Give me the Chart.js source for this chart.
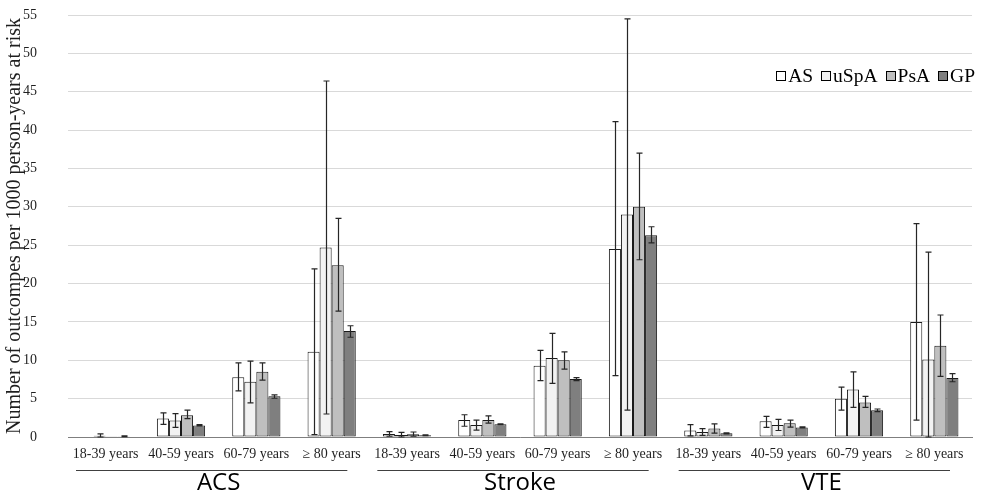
<!DOCTYPE html>
<html lang="en">
<head>
<meta charset="UTF-8">
<title>Outcomes per 1000 person-years</title>
<script src="https://cdn.jsdelivr.net/npm/chart.js"></script>
<style>
  body { margin: 0; background: #fff; }
  #wrap { position: relative; width: 987px; height: 501px; }
  #legend { position: absolute; right: 12px; top: 65px; font-family: "Liberation Serif", serif; font-size: 19.5px; color: #000; display: flex; align-items: center; }
  #legend span.item { display: flex; align-items: center; margin-left: 8px; }
  #legend i { display: inline-block; width: 8px; height: 8px; border: 1px solid #000; margin-right: 2px; }
</style>
</head>
<body>
<div id="wrap">
  <canvas id="grafico" width="987" height="501"></canvas>
  <div id="legend"></div>
</div>
<script>
// categorias
const idades = ['18-39 years', '40-59 years', '60-79 years', '\u2265 80 years'];
const desfechos = ['ACS', 'Stroke', 'VTE'];
const categorias = [...idades, ...idades, ...idades];

const series = ['AS', 'uSpA', 'PsA', 'GP'];
const cores = ['#ffffff', '#f2f2f2', '#bfbfbf', '#7f7f7f'];

// valores (ACS x4, Stroke x4, VTE x4)
const valAS   = [0.05, 2.4, 7.8, 11.1, 0.4, 2.2, 9.3, 24.5, 0.85, 2.05, 5.0, 15.0];
const loAS    = [0.05, 1.65, 6.0, 0.3, 0.1, 1.4, 7.35, 8.0, 0.15, 1.25, 3.5, 2.2];
const hiAS    = [0.05, 3.15, 9.65, 21.9, 0.7, 2.9, 11.3, 41.1, 1.6, 2.7, 6.5, 27.8];

const valUSpA = [0.15, 2.15, 7.2, 24.7, 0.25, 1.55, 10.3, 29.0, 0.65, 1.55, 6.2, 10.1];
const loUSpA  = [0, 1.25, 4.45, 3.0, 0, 0.9, 7.0, 3.5, 0.2, 0.85, 3.85, 0];
const hiUSpA  = [0.4, 3.05, 9.9, 46.4, 0.6, 2.2, 13.5, 54.5, 1.1, 2.3, 8.5, 24.1];

const valPsA  = [0.03, 2.85, 8.5, 22.4, 0.35, 2.2, 10.0, 30.0, 1.1, 1.8, 4.5, 11.9];
const loPsA   = [0.03, 2.4, 7.4, 16.4, 0.1, 1.8, 8.85, 23.1, 0.5, 1.3, 3.85, 7.9];
const hiPsA   = [0.03, 3.5, 9.65, 28.5, 0.65, 2.75, 11.1, 37.0, 1.7, 2.2, 5.3, 15.9];

const valGP   = [0.1, 1.5, 5.3, 13.8, 0.22, 1.65, 7.55, 26.3, 0.48, 1.25, 3.5, 7.7];
const loGP    = [0.05, 1.45, 5.05, 13.0, 0.18, 1.6, 7.35, 25.3, 0.42, 1.2, 3.3, 7.2];
const hiGP    = [0.15, 1.6, 5.5, 14.5, 0.27, 1.72, 7.75, 27.4, 0.55, 1.33, 3.65, 8.25];

const valores = [valAS, valUSpA, valPsA, valGP];
const minimos = [loAS, loUSpA, loPsA, loGP];
const maximos = [hiAS, hiUSpA, hiPsA, hiGP];

const serif = '"Liberation Serif", "Times New Roman", serif';

// barras de erro desenhadas pelas escalas
const errorBars = {
  id: 'errorBars',
  afterDatasetsDraw(chart) {
    const ctx = chart.ctx;
    const y = chart.scales.y;
    ctx.save();
    ctx.strokeStyle = '#262626';
    ctx.lineWidth = 1.2;
    chart.data.datasets.forEach((ds, i) => {
      chart.getDatasetMeta(i).data.forEach((bar, j) => {
        const lo = ds.errLo[j], hi = ds.errHi[j];
        if (hi - lo <= 0) return;
        const yLo = y.getPixelForValue(lo), yHi = y.getPixelForValue(hi);
        const x = Math.round(bar.x) + 0.5;
        ctx.beginPath();
        ctx.moveTo(x, yLo); ctx.lineTo(x, yHi);
        ctx.moveTo(x - 3, yLo); ctx.lineTo(x + 3, yLo);
        ctx.moveTo(x - 3, yHi); ctx.lineTo(x + 3, yHi);
        ctx.stroke();
      });
    });
    ctx.restore();
  }
};

// linhas sob os grupos
const groupLines = {
  id: 'groupLines',
  afterDraw(chart) {
    const s = chart.scales.x2;
    const ctx = chart.ctx;
    const half = s.width / desfechos.length / 2;
    ctx.save();
    ctx.strokeStyle = '#404040';
    ctx.lineWidth = 1;
    desfechos.forEach((d, i) => {
      const c = s.getPixelForTick(i);
      const yy = Math.round(s.top + 6) + 0.5;
      ctx.beginPath();
      ctx.moveTo(c - half + 8, yy);
      ctx.lineTo(c + half - 22, yy);
      ctx.stroke();
    });
    ctx.restore();
  }
};

new Chart(document.getElementById('grafico'), {
  type: 'bar',
  data: {
    labels: categorias,
    datasets: series.map((nome, i) => ({
      label: nome,
      data: valores[i],
      errLo: minimos[i],
      errHi: maximos[i],
      backgroundColor: cores[i],
      borderColor: '#1a1a1a',
      borderWidth: 1,
      borderSkipped: false,
      barPercentage: 1.0,
      categoryPercentage: 0.64
    }))
  },
  options: {
    responsive: false,
    animation: false,
    layout: { padding: { top: 15, right: 15, left: 0, bottom: 0 } },
    plugins: { legend: { display: false }, tooltip: { enabled: false } },
    scales: {
      x: {
        offset: true,
        grid: { display: false, drawTicks: false },
        border: { display: true, color: '#7f7f7f', width: 1 },
        ticks: { font: { family: serif, size: 14 }, color: '#1f1f1f', padding: 9, maxRotation: 0, autoSkip: false },
        afterFit: s => { s.height = 27; }
      },
      x2: {
        type: 'category',
        labels: desfechos,
        position: 'bottom',
        offset: true,
        grid: { display: false, drawTicks: false },
        border: { display: false },
        ticks: { font: { family: '"Open Sans", sans-serif', size: 24 }, color: '#000', padding: 5, maxRotation: 0 },
        afterFit: s => { s.height = 37; }
      },
      y: {
        min: 0, max: 55,
        ticks: { stepSize: 5, font: { family: serif, size: 14 }, color: '#1f1f1f', padding: 31 },
        grid: { color: '#d9d9d9', drawTicks: false },
        border: { display: false },
        title: { display: true, text: 'Number of outcompes per 1000 person-years at risk', font: { family: serif, size: 20 }, color: '#1f1f1f', padding: { top: 3, bottom: 0 } },
        afterFit: s => { s.width = 68; s.paddingTop = 8; s.paddingBottom = 8; }
      }
    }
  },
  plugins: [errorBars, groupLines]
});

// legenda
const leg = document.getElementById('legend');
series.forEach((nome, i) => {
  const it = document.createElement('span');
  it.className = 'item';
  it.innerHTML = '<i style="background:' + cores[i] + '"></i>' + nome;
  leg.appendChild(it);
});
</script>
</body>
</html>
